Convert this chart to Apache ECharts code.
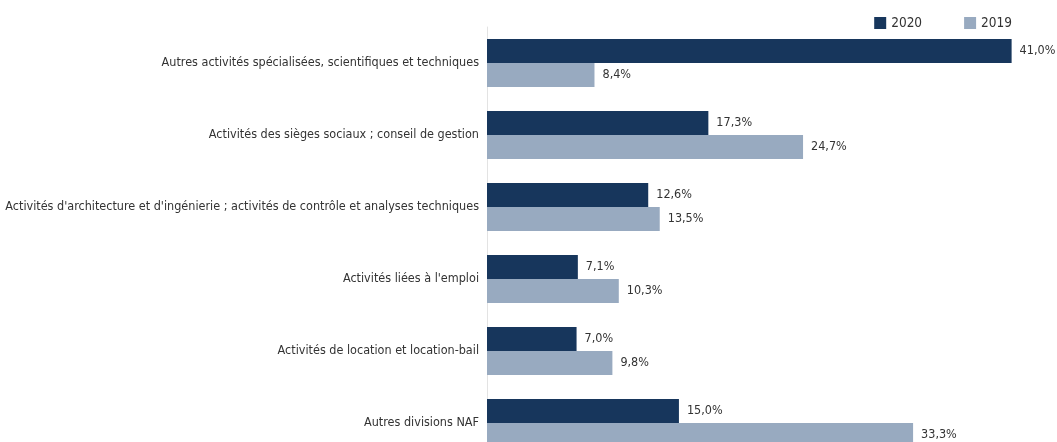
<!DOCTYPE html>
<html><head><meta charset="utf-8">
<script src="https://cdn.jsdelivr.net/npm/echarts@6/dist/echarts.min.js"></script>
<style>html,body{margin:0;padding:0;background:#fff}#c{width:1057px;height:442px}</style>
</head><body><div id="c"></div>
<script>
const categories = [
  "Autres activités spécialisées, scientifiques et techniques",
  "Activités des sièges sociaux ; conseil de gestion",
  "Activités d'architecture et d'ingénierie ; activités de contrôle et analyses techniques",
  "Activités liées à l'emploi",
  "Activités de location et location-bail",
  "Autres divisions NAF"
];
const values2020 = [41.0, 17.3, 12.6, 7.1, 7.0, 15.0];
const values2019 = [8.4, 24.7, 13.5, 10.3, 9.8, 33.3];
const seriesNames = ["2020", "2019"];

const FONT = "'DejaVu Sans Condensed','Roboto',sans-serif";
const FS = 12.5;
const fmt = p => p.value.toFixed(1).replace('.', ',') + '%';
const chart = echarts.init(document.getElementById('c'), null, {renderer:'canvas'});
chart.setOption({
  animation: false,
  textStyle: {fontFamily: FONT},
  legend: {
    data: seriesNames, right: 40, top: 11, itemWidth: 12, itemHeight: 12, itemGap: 42,
    textStyle: {fontFamily: FONT, fontSize: 13.5, color: '#333'}, icon: 'rect'
  },
  grid: {left: 487, right: 7, top: 27, bottom: -17, outerBoundsMode: 'none', containLabel: false},
  xAxis: {type: 'value', min: 0, max: 44, show: false},
  yAxis: {
    type: 'category', data: categories, inverse: true,
    axisLine: {show: true, lineStyle: {color: '#e3e3e3'}}, axisTick: {show: false},
    axisLabel: {fontFamily: FONT, fontSize: FS, color: '#333', margin: 8, padding: [3, 0, 0, 0]}
  },
  series: [
    {name: seriesNames[0], type: 'bar', data: values2020, barWidth: 24, barGap: '0%',
     itemStyle: {color: '#17365c'},
     label: {show: true, position: 'right', distance: 8, formatter: fmt, fontFamily: FONT, fontSize: FS, color: '#333'}},
    {name: seriesNames[1], type: 'bar', data: values2019, barWidth: 24, barGap: '0%',
     itemStyle: {color: '#98aac0'},
     label: {show: true, position: 'right', distance: 8, formatter: fmt, fontFamily: FONT, fontSize: FS, color: '#333'}}
  ]
});
</script></body></html>
